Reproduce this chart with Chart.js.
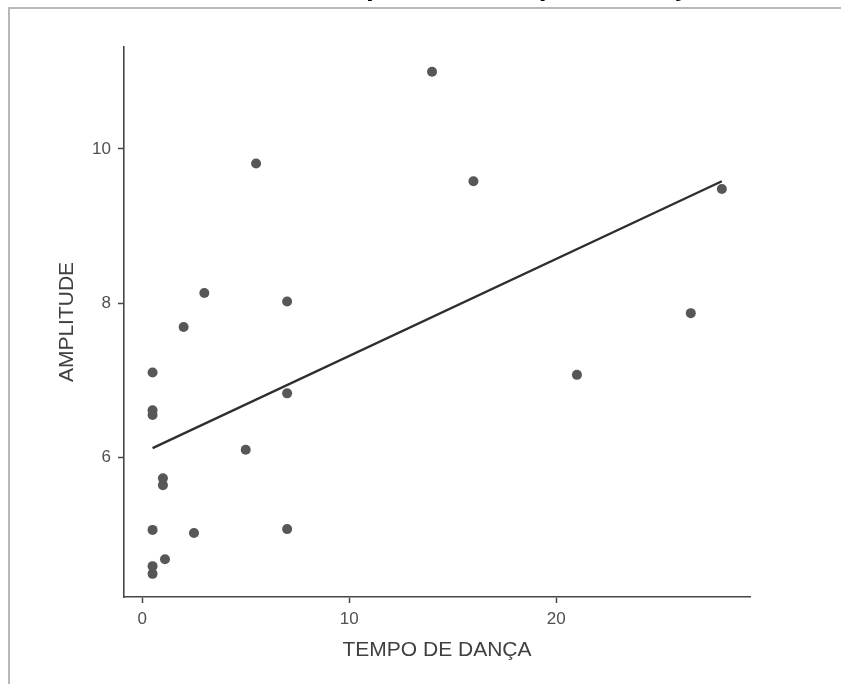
<!DOCTYPE html>
<html>
<head>
<meta charset="utf-8">
<script src="https://cdn.jsdelivr.net/npm/chart.js@4.4.0/dist/chart.umd.min.js"></script>
<style>
  html, body { margin: 0; padding: 0; background: #fff; }
  #wrap { position: relative; width: 841px; height: 684px; overflow: hidden; }
  #chart { position: absolute; left: 0; top: 0; }
  /* moldura cinza do print */
  #frame {
    position: absolute; left: 8px; top: 7px; right: -4px; bottom: -4px;
    border-top: 2px solid #b8b8b8; border-left: 2px solid #b8b8b8;
    pointer-events: none;
  }
  /* titulo cortado no topo do print */
  #titleClip { position: absolute; left: 0; top: 0; width: 841px; height: 7px; overflow: hidden; }
  #title {
    position: absolute; left: 321px; top: -28px; white-space: nowrap;
    font: bold 28px "Liberation Sans", Arial, sans-serif; line-height: 28px; color: #000;
  }
</style>
</head>
<body>
<div id="wrap">
  <canvas id="chart" width="841" height="684"></canvas>
  <div id="titleClip"><span id="title">Amplitude x tempo de dança</span></div>
  <div id="frame"></div>
</div>
<script>
// dados
const tempoDanca = [0.5, 0.5, 1.1, 0.5, 2.5, 7, 1, 1, 5, 0.5, 0.5, 0.5, 7, 2, 3, 7, 5.5, 14, 16, 21, 26.5, 28];
const amplitude  = [4.49, 4.59, 4.68, 5.06, 5.02, 5.07, 5.64, 5.73, 6.10, 6.55, 6.61, 7.10, 6.83, 7.69, 8.13, 8.02, 9.81, 11.0, 9.58, 7.07, 7.87, 9.48];

// reta de regressao (extremos)
const trendTempo = [0.5, 28];
const trendAmplitude = [6.12, 9.58];

const xTicks = [0, 10, 20];
const yTicks = [6, 8, 10];

const axisColor = '#474747';
const tickFont = { family: 'Liberation Sans', size: 17 };
const titleFont = { family: 'Liberation Sans', size: 21 };

const pontos = tempoDanca.map((x, i) => ({ x: x, y: amplitude[i] }));
const reta = trendTempo.map((x, i) => ({ x: x, y: trendAmplitude[i] }));

new Chart(document.getElementById('chart').getContext('2d'), {
    type: 'scatter',
    data: {
        datasets: [
            {
                data: pontos,
                backgroundColor: '#575757',
                borderWidth: 0,
                pointRadius: 5,
                pointHoverRadius: 5
            },
            {
                type: 'line',
                data: reta,
                borderColor: '#2e2e2e',
                borderWidth: 2.3,
                pointRadius: 0,
                fill: false
            }
        ]
    },
    options: {
        responsive: false,
        animation: false,
        devicePixelRatio: 1,
        layout: { padding: { left: 0, top: 47, right: 91, bottom: 0 } },
        plugins: {
            legend: { display: false },
            tooltip: { enabled: false }
        },
        scales: {
            x: {
                type: 'linear',
                min: -0.88,
                max: 29.36,
                afterBuildTicks: s => { s.ticks = xTicks.map(v => ({ value: v })); },
                afterFit: s => { s.height = 87; },
                grid: { drawOnChartArea: false, drawTicks: true, tickLength: 6, tickColor: axisColor, tickWidth: 1.5 },
                border: { display: true, color: axisColor, width: 1.6 },
                ticks: { font: tickFont, color: '#505050', padding: 6, maxRotation: 0 },
                title: { display: true, text: 'TEMPO DE DANÇA', font: titleFont, color: '#404040', padding: { top: 0, bottom: 21 } }
            },
            y: {
                type: 'linear',
                min: 4.19,
                max: 11.32,
                afterBuildTicks: s => { s.ticks = yTicks.map(v => ({ value: v })); },
                afterFit: s => { s.width = 124; },
                grid: { drawOnChartArea: false, drawTicks: true, tickLength: 6, tickColor: axisColor, tickWidth: 1.5 },
                border: { display: true, color: axisColor, width: 1.6 },
                ticks: { font: tickFont, color: '#505050', padding: 7 },
                title: { display: true, text: 'AMPLITUDE', font: titleFont, color: '#404040', padding: { top: 55, bottom: 0 } }
            }
        }
    }
});
</script>
</body>
</html>
